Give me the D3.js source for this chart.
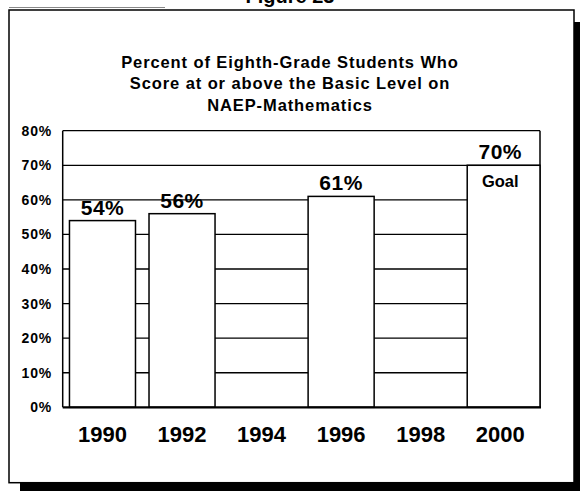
<!DOCTYPE html>
<html>
<head>
<meta charset="utf-8">
<script src="https://cdn.jsdelivr.net/npm/d3@7"></script>
<style>
  body { margin: 0; background: #fff; }
  text { font-family: Arial, "Liberation Sans", sans-serif; font-weight: bold; fill: #000; }
</style>
</head>
<body>
<div id="chart"></div>
<script>
// data
const years = ["1990", "1992", "1994", "1996", "1998", "2000"];
const scores = [54, 56, null, 61, null, 70];
const goalYear = "2000";
const yTicks = [0, 10, 20, 30, 40, 50, 60, 70, 80];
const titleLines = [
  "Percent of Eighth-Grade Students Who",
  "Score at or above the Basic Level on",
  "NAEP-Mathematics"
];

const svgWidth = 580;
const svgHeight = 491;

const plot = { left: 62.7, right: 540, top: 130.7, bottom: 407.3 };

const svg = d3.select("#chart")
  .append("svg")
  .attr("width", svgWidth)
  .attr("height", svgHeight);

// drop shadow + frame
svg.append("rect")
  .attr("x", 20).attr("y", 22)
  .attr("width", 560).attr("height", 469)
  .attr("fill", "#000");

svg.append("rect")
  .attr("x", 9).attr("y", 10)
  .attr("width", 565).attr("height", 472.7)
  .attr("fill", "#fff")
  .attr("stroke", "#000")
  .attr("stroke-width", 1.5);

svg.append("line")
  .attr("x1", 9).attr("x2", 165)
  .attr("y1", 7.5).attr("y2", 7.5)
  .attr("stroke", "#888")
  .attr("stroke-width", 1);

// header, cut off by the top edge like in the scan
svg.append("text")
  .attr("x", 290)
  .attr("y", 3)
  .attr("text-anchor", "middle")
  .attr("font-size", "20px")
  .text("Figure 23");

// title
svg.append("g")
  .selectAll("text")
  .data(titleLines)
  .join("text")
  .attr("x", 290)
  .attr("y", (d, i) => 67.7 + i * 21.7)
  .attr("text-anchor", "middle")
  .attr("font-size", "16.5px")
  .attr("letter-spacing", "0.9px")
  .text(d => d);

// scales
const x = d3.scaleBand()
  .domain(years)
  .range([plot.left, plot.right])
  .paddingInner(0.17)
  .paddingOuter(0.085);

const y = d3.scaleLinear()
  .domain([0, 80])
  .range([plot.bottom, plot.top]);

// gridlines
svg.append("g")
  .selectAll("line")
  .data(yTicks.filter(d => d > 0))
  .join("line")
  .attr("x1", plot.left)
  .attr("x2", plot.right)
  .attr("y1", d => y(d))
  .attr("y2", d => y(d))
  .attr("stroke", "#000")
  .attr("stroke-width", 1.3);

// plot sides
svg.append("line")
  .attr("x1", plot.left).attr("x2", plot.left)
  .attr("y1", plot.top).attr("y2", plot.bottom)
  .attr("stroke", "#000").attr("stroke-width", 1.5);
svg.append("line")
  .attr("x1", plot.right).attr("x2", plot.right)
  .attr("y1", plot.top).attr("y2", plot.bottom)
  .attr("stroke", "#000").attr("stroke-width", 1.5);

// y tick labels
svg.append("g")
  .selectAll("text")
  .data(yTicks)
  .join("text")
  .attr("x", 52)
  .attr("y", d => y(d))
  .attr("dy", "0.36em")
  .attr("text-anchor", "end")
  .attr("font-size", "14px")
  .attr("letter-spacing", "0.8px")
  .text(d => d + "%");

// bars
const barData = years.map((yr, i) => ({ year: yr, value: scores[i] }))
  .filter(d => d.value !== null);

const barWidth = d => d.year === goalYear ? plot.right - x(d.year) : x.bandwidth();

svg.append("g")
  .selectAll("rect")
  .data(barData)
  .join("rect")
  .attr("x", d => x(d.year))
  .attr("y", d => y(d.value))
  .attr("width", barWidth)
  .attr("height", d => y(0) - y(d.value))
  .attr("fill", "#fff")
  .attr("stroke", "#000")
  .attr("stroke-width", 1.5);

// baseline
svg.append("line")
  .attr("x1", plot.left).attr("x2", plot.right + 1)
  .attr("y1", y(0)).attr("y2", y(0))
  .attr("stroke", "#000").attr("stroke-width", 2.2);

// value labels
svg.append("g")
  .selectAll("text")
  .data(barData)
  .join("text")
  .attr("x", d => x(d.year) + x.bandwidth() / 2)
  .attr("y", d => y(d.value) - 6)
  .attr("text-anchor", "middle")
  .attr("font-size", "21px")
  .attr("letter-spacing", "0.5px")
  .text(d => d.value + "%");

svg.append("text")
  .attr("x", x(goalYear) + x.bandwidth() / 2)
  .attr("y", y(70) + 22)
  .attr("text-anchor", "middle")
  .attr("font-size", "16.5px")
  .text("Goal");

// year labels
svg.append("g")
  .selectAll("text")
  .data(years)
  .join("text")
  .attr("x", d => x(d) + x.bandwidth() / 2)
  .attr("y", 442)
  .attr("text-anchor", "middle")
  .attr("font-size", "22px")
  .text(d => d);
</script>
</body>
</html>
